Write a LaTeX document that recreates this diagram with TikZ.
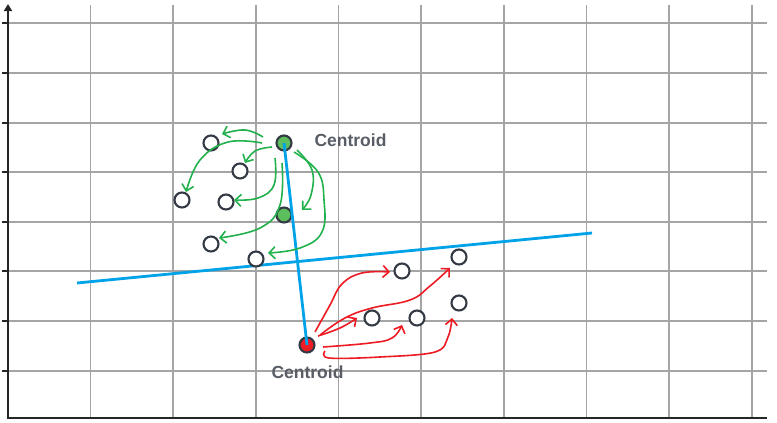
\documentclass[tikz,border=0pt]{standalone}
\usepackage{fontspec}
\setmainfont{Liberation Sans}
\usetikzlibrary{arrows.meta}
\definecolor{gridc}{RGB}{165,165,165}
\definecolor{gc}{RGB}{34,177,76}
\definecolor{gfill}{RGB}{92,190,92}
\definecolor{rc}{RGB}{237,28,36}
\definecolor{bc}{RGB}{0,162,232}
\definecolor{ptc}{RGB}{52,58,68}
\definecolor{lblc}{RGB}{88,93,102}
\begin{document}
\begin{tikzpicture}[x=1pt,y=-1pt,
  gridline/.style={draw=gridc,line width=1.5pt},
  axisline/.style={draw=black!85,line width=2pt},
  pt/.style={circle,draw=ptc,fill=white,line width=2.1pt,minimum size=15pt,inner sep=0pt},
  gcen/.style={pt,fill=gfill},
  rcen/.style={pt,fill=rc},
  garrow/.style={draw=gc,line width=1.6pt,-{Straight Barb[length=6pt,width=12pt]}},
  rarrow/.style={draw=rc,line width=1.6pt,-{Straight Barb[length=6pt,width=12pt]}},
  bline/.style={draw=bc,line width=2.8pt},
  lbl/.style={text=lblc,font=\bfseries\fontsize{17.5}{20}\selectfont,inner sep=0pt}]
\useasboundingbox (0,0) rectangle (777,423);
\fill[white] (0,0) rectangle (777,423);
% grid
\foreach \x in {90.5,173,256,338.5,421,504,586.5,669,752}
  \draw[gridline] (\x,5) -- (\x,418);
\foreach \y in {23,73,123,172,222,271,321,371}{
  \draw[gridline] (8,\y) -- (767,\y);
  \draw[axisline] (2,\y) -- (8,\y);}
% axes
\draw[axisline] (8,418) -- (767,418);
\draw[axisline,-{Triangle[length=7pt,width=8pt]}] (8,419) -- (8,4);
% separating line
\draw[bline] (77,283) -- (592,233);
% points
\node[pt] (p1) at (211,143) {};
\node[pt] (p2) at (240,171) {};
\node[pt] (p3) at (182,200) {};
\node[pt] (p4) at (226,202) {};
\node[pt] (p5) at (211,244) {};
\node[pt] (p6) at (256,259) {};
\node[pt] (q1) at (402,271) {};
\node[pt] (q2) at (459,257) {};
\node[pt] (q3) at (372,318) {};
\node[pt] (q4) at (417,318) {};
\node[pt] (q5) at (459,303) {};
\node[gcen] (g1) at (284,143) {};
\node[gcen] (g2) at (284,215) {};
\node[rcen] (r1) at (307,345) {};
\draw[bline] (g1.center) -- (r1.center);
% labels
\node[lbl] (l1) at (350.5,140) {Centroid};
\node[lbl] (l2) at (307.5,372) {Centroid};
% green arrows
\draw[garrow] plot[smooth,tension=0.7] coordinates {(263,137) (245,130) (222,134)};
\draw[garrow] plot[smooth,tension=0.7] coordinates {(262,143) (228,142) (200,160) (186,192)};
\draw[garrow] plot[smooth,tension=0.7] coordinates {(272,147) (255,151) (245,163)};
\draw[garrow] plot[smooth,tension=0.7] coordinates {(275,158) (274,185) (258,198) (234,200)};
\draw[garrow] plot[smooth,tension=0.7] coordinates {(282,163) (280,205) (260,228) (219,238)};
\draw[garrow] plot[smooth,tension=0.7] coordinates {(297,150) (312,170) (311,195) (302,210)};
\draw[garrow] plot[smooth,tension=0.7] coordinates {(294,152) (318,172) (324,200) (322,232) (300,248) (268,253)};
% red arrows
\draw[rarrow] plot[smooth,tension=0.7] coordinates {(315,332) (330,305) (342,284) (362,273) (390,272)};
\draw[rarrow] plot[smooth,tension=0.7] coordinates {(318,336) (340,328) (357,318)};
\draw[rarrow] plot[smooth,tension=0.7] coordinates {(320,335) (345,318) (372,308) (410,300) (430,286) (450,268)};
\draw[rarrow] plot[smooth,tension=0.7] coordinates {(323,347) (370,343) (392,338) (402,325)};
\draw[rarrow] plot[smooth,tension=0.6] coordinates {(325,351) (329,358) (380,357) (435,352) (448,337) (452,318)};
\end{tikzpicture}
\end{document}
